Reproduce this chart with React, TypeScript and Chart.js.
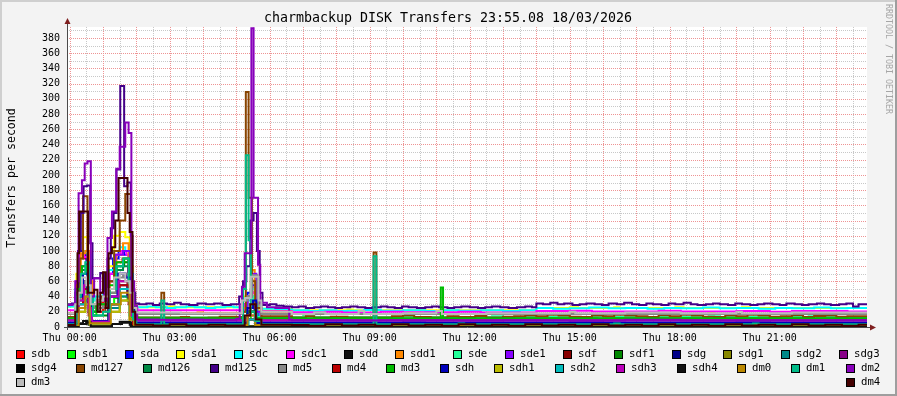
import { useEffect, useRef } from "react";
import { Chart, registerables } from "chart.js";

Chart.register(...registerables);

// ---------------- data (minutes after Thu 00:00, transfers/s) ----------------
const seriesNames = [
  "sdb", "sdb1", "sda", "sda1", "sdc", "sdc1", "sdd", "sdd1", "sde", "sde1", "sdf", "sdf1", "sdg", "sdg1", "sdg2", "sdg3",
  "sdg4", "md127", "md126", "md125", "md5", "md4", "md3", "sdh", "sdh1", "sdh2", "sdh3", "sdh4", "dm0", "dm1", "dm2",
  "dm3", "dm4",
];
const seriesColors = [
  "#FF0000", "#00FF00", "#0000FF", "#FFFF00", "#00FFFF", "#FF00FF", "#111111", "#FF8800", "#22FF99", "#8800FF", "#880000", "#008800", "#000088", "#888800", "#008888", "#880088",
  "#000000", "#884400", "#008844", "#440088", "#888888", "#BB0000", "#00BB00", "#0000BB", "#BBBB00", "#00BBBB", "#BB00BB", "#111111", "#BB8800", "#00BB88", "#8800BB",
  "#BBBBBB", "#440000",
];

const sdb = [[-5, 2.5], [12, 40], [18, 90], [28, 95], [36, 30], [42, 20], [60, 35], [70, 60], [80, 85], [95, 90], [105, 70], [112, 20], [118, 2.5], [312, 20], [318, 40], [326, 50], [334, 10], [345, 2.5]];
const sdb1 = [[-5, 0.5], [10, 25], [16, 35], [24, 60], [30, 45], [38, 15], [48, 25], [70, 30], [80, 38], [92, 40], [104, 35], [112, 12], [120, 0.5], [312, 10], [326, 20], [338, 0.5]];
const sda = [[-5, 5.5], [12, 60], [18, 100], [24, 95], [30, 80], [36, 40], [42, 25], [50, 35], [60, 45], [70, 70], [78, 90], [88, 100], [98, 95], [106, 60], [112, 20], [118, 5.5], [312, 30], [320, 45], [327, 55], [333, 20], [340, 5.5]];
const sda1 = [[-5, 27], [12, 70], [18, 110], [24, 118], [32, 100], [38, 40], [45, 35], [60, 45], [70, 80], [80, 120], [90, 125], [100, 118], [108, 80], [114, 30], [120, 26], [180, 27], [190, 26], [312, 40], [326, 60], [334, 30], [345, 24], [400, 22], [500, 23], [510, 22], [840, 25], [900, 26], [915, 25], [980, 26], [990, 25], [1090, 26], [1105, 25], [1210, 26], [1225, 25]];
const sdc = [[-5, 27], [10, 50], [16, 90], [24, 100], [32, 95], [38, 35], [46, 40], [60, 50], [70, 75], [80, 100], [90, 105], [100, 100], [108, 70], [114, 30], [120, 26], [140, 27], [155, 26], [175, 25], [190, 26], [210, 27], [225, 26], [245, 25], [262, 26], [280, 27], [295, 26], [312, 35], [326, 50], [336, 28], [345, 24], [370, 23], [400, 22], [430, 21], [450, 22], [480, 21], [500, 21.5], [530, 22.5], [560, 21.5], [600, 22], [640, 21], [670, 22], [700, 21.5], [740, 22], [780, 21], [810, 22], [840, 25], [870, 24], [900, 24.5], [935, 25.5], [970, 24.5], [1000, 25], [1040, 24], [1070, 25], [1100, 24.5], [1140, 25.5], [1170, 24.5], [1200, 25], [1240, 24], [1270, 25], [1300, 24.5], [1340, 25.5], [1370, 24.5], [1400, 25]];
const sdc1 = [[-5, 22], [12, 60], [18, 95], [26, 92], [34, 70], [40, 28], [50, 35], [62, 40], [72, 70], [82, 95], [92, 100], [102, 95], [110, 50], [116, 25], [122, 22], [314, 30], [326, 45], [336, 25], [345, 21], [400, 19.5], [460, 20], [490, 19], [560, 20], [600, 19.5], [700, 20], [740, 19], [840, 21], [900, 21.5], [940, 20.5], [1000, 20.5], [1060, 21.5], [1100, 20.5], [1200, 21], [1260, 20], [1300, 21], [1400, 20.5]];
const sdd = [[-5, 0.5], [14, 5], [24, 8], [34, 3], [70, 4], [90, 7], [108, 3], [118, 0.5]];
const sdd1 = [[-5, 18], [12, 55], [20, 97], [28, 100], [36, 60], [42, 25], [60, 30], [72, 60], [84, 95], [96, 110], [106, 80], [112, 30], [120, 18], [230, 19], [240, 18], [312, 25], [320, 40], [326, 75], [333, 40], [340, 20], [400, 17], [610, 18], [620, 17], [900, 18], [910, 17], [1150, 18], [1160, 17]];
const sde = [[-5, 12.5], [14, 50], [22, 80], [30, 70], [38, 20], [50, 25], [70, 50], [82, 80], [96, 85], [108, 50], [116, 12.5], [320, 30], [330, 40], [338, 13], [420, 14], [440, 13], [600, 14], [620, 13], [760, 14], [780, 13], [950, 14], [965, 13], [1150, 14], [1170, 13], [1330, 14], [1345, 13]];
const sde1 = [[-5, 9], [14, 50], [22, 80], [30, 75], [38, 20], [50, 25], [70, 60], [82, 95], [96, 100], [108, 40], [116, 9], [320, 40], [328, 70], [336, 20], [345, 9]];
const sdf = [[-5, 2.5], [14, 40], [24, 60], [32, 30], [40, 5], [70, 30], [88, 60], [104, 40], [114, 2.5], [320, 10], [334, 2.5]];
const sdf1 = [[-5, 11], [14, 40], [22, 75], [30, 70], [38, 15], [70, 45], [84, 80], [98, 85], [108, 40], [116, 11], [320, 20], [334, 11]];
const sdg = [[-5, 5.5], [14, 30], [24, 50], [34, 20], [40, 5], [70, 30], [88, 55], [104, 40], [114, 5.5], [320, 20], [334, 5.5]];
const sdg1 = [[-5, 0.5], [16, 20], [28, 30], [36, 5], [72, 20], [90, 35], [108, 10], [116, 0.5]];
const sdg2 = [[-5, 2.5], [16, 25], [28, 35], [36, 5], [72, 25], [90, 40], [108, 15], [116, 2.5], [320, 10], [334, 2.5]];
const sdg3 = [[-5, 9], [16, 40], [26, 60], [34, 30], [40, 8], [72, 40], [88, 70], [102, 65], [110, 20], [116, 9], [320, 20], [334, 9]];
const sdg4 = [[-5, 0.5], [16, 4], [30, 6], [38, 1], [76, 4], [94, 6], [110, 1], [118, 0.5]];
const md127 = [[-5, 13], [12, 40], [18, 90], [24, 172], [32, 80], [38, 25], [46, 30], [56, 40], [64, 20], [70, 60], [80, 100], [90, 140], [100, 175], [110, 50], [116, 14], [122, 12.5], [165, 45], [170, 12.5], [200, 13], [215, 12], [250, 12.5], [270, 13.5], [300, 13], [312, 20], [317, 309], [322, 170], [328, 60], [334, 25], [345, 14], [400, 12.5], [425, 14], [440, 12.5], [470, 13.5], [500, 12.5], [547, 98], [552, 12.5], [580, 14], [600, 15], [620, 13], [650, 12.5], [680, 14], [700, 13], [730, 14.5], [750, 12.5], [780, 13.5], [800, 14], [820, 15], [840, 14], [860, 16], [880, 15], [900, 13.5], [920, 13], [940, 15], [960, 14], [980, 16], [1000, 15], [1020, 14], [1040, 13], [1060, 15.5], [1080, 14], [1100, 16], [1120, 15], [1140, 13.5], [1160, 13], [1180, 15], [1200, 14], [1220, 16], [1240, 15], [1260, 13.5], [1280, 14], [1300, 15.5], [1320, 13], [1340, 14.5], [1360, 15], [1380, 13.5], [1400, 14]];
const md126 = [[-5, 11], [14, 45], [22, 75], [30, 70], [38, 20], [50, 30], [70, 50], [84, 75], [96, 80], [108, 40], [116, 11], [320, 20], [334, 11]];
const md125 = [[-5, 30], [4, 31], [10, 45], [15, 100], [20, 150], [25, 185], [31, 186], [37, 110], [41, 64], [55, 71], [62, 38], [68, 90], [74, 130], [79, 150], [84, 207], [91, 317], [98, 185], [104, 190], [110, 120], [113, 45], [118, 31], [125, 30], [138, 31], [150, 29], [162, 31], [175, 30], [188, 32], [200, 30], [215, 29], [230, 31], [245, 30], [260, 31], [275, 29], [290, 30], [305, 40], [312, 60], [318, 80], [325, 140], [331, 150], [337, 100], [342, 45], [347, 29], [360, 30], [372, 28], [385, 27], [400, 26], [412, 27], [425, 25], [440, 26], [452, 27], [465, 26], [478, 25], [490, 26], [505, 27], [518, 26], [532, 25], [545, 26], [560, 27], [572, 26], [585, 25], [598, 27], [610, 26], [625, 25], [640, 26], [652, 27], [665, 26], [680, 25], [692, 26], [705, 27], [720, 26], [735, 25], [748, 26], [760, 27], [775, 26], [790, 25], [805, 26], [820, 27], [832, 26], [840, 31], [852, 30], [865, 32], [878, 30], [890, 31], [905, 29], [918, 30], [930, 31], [945, 30], [958, 29], [970, 31], [985, 30], [998, 32], [1012, 30], [1025, 29], [1038, 31], [1050, 30], [1065, 29], [1078, 31], [1090, 30], [1105, 32], [1118, 30], [1130, 29], [1145, 30], [1158, 31], [1170, 30], [1185, 29], [1198, 31], [1210, 30], [1225, 29], [1238, 30], [1250, 31], [1265, 30], [1278, 29], [1290, 31], [1305, 30], [1318, 29], [1330, 30], [1345, 31], [1358, 30], [1370, 29], [1385, 30], [1398, 31], [1410, 27], [1420, 30]];
const md5 = [[-5, 17], [12, 35], [20, 55], [28, 60], [36, 30], [44, 25], [60, 30], [72, 45], [84, 65], [96, 70], [106, 50], [114, 20], [122, 17], [312, 35], [320, 40], [328, 68], [338, 30], [345, 17]];
const md4 = [[-5, 2.5], [14, 30], [24, 50], [34, 15], [40, 2.5], [72, 30], [90, 55], [106, 30], [114, 2.5], [320, 10], [334, 2.5]];
const md3 = [[-5, 11.5], [14, 50], [22, 80], [30, 75], [38, 20], [48, 30], [70, 55], [84, 85], [98, 90], [108, 45], [116, 11.5], [320, 20], [334, 11.5], [668, 52], [672, 11.5]];
const sdh = [[-5, 5.5], [14, 40], [24, 70], [32, 50], [38, 8], [70, 40], [86, 70], [100, 65], [110, 25], [116, 5.5], [320, 25], [330, 35], [336, 5.5], [600, 6], [640, 5.5], [900, 6], [960, 5.5], [1200, 6], [1260, 5.5]];
const sdh1 = [[-5, 0.5], [16, 20], [28, 30], [36, 3], [72, 20], [90, 35], [108, 10], [116, 0.5]];
const sdh2 = [[-5, 2.5], [16, 30], [28, 40], [36, 5], [72, 30], [90, 50], [108, 15], [116, 2.5], [322, 10], [334, 2.5]];
const sdh3 = [[-5, 9], [16, 35], [26, 55], [34, 25], [40, 7], [72, 40], [88, 60], [102, 60], [110, 15], [116, 9], [320, 15], [334, 9]];
const sdh4 = [[-5, 0.5], [16, 4], [30, 6], [38, 1], [76, 4], [94, 6], [110, 1], [118, 0.5]];
const dm0 = [[-5, 2.5], [16, 25], [28, 40], [36, 5], [74, 30], [92, 45], [108, 10], [116, 2.5], [320, 15], [334, 2.5]];
const dm1 = [[-5, 3.5], [12, 40], [20, 70], [28, 85], [36, 40], [42, 15], [60, 20], [72, 50], [84, 80], [96, 90], [106, 60], [114, 10], [120, 3.5], [165, 35], [170, 3.5], [312, 50], [317, 226], [322, 114], [326, 20], [334, 8], [345, 3.5], [547, 93], [552, 3.5], [700, 4.5], [710, 3.5], [980, 4.5], [990, 3.5], [1230, 4.5], [1240, 3.5]];
const dm2 = [[-5, 29], [5, 30], [10, 60], [16, 176], [22, 193], [27, 215], [32, 218], [38, 40], [44, 64], [55, 45], [62, 35], [68, 117], [76, 152], [84, 208], [90, 237], [100, 269], [106, 255], [111, 60], [116, 28], [121, 10], [160, 9.5], [200, 10], [240, 9.5], [300, 11], [306, 30], [310, 53], [315, 97], [327, 393], [331, 170], [339, 82], [343, 32], [355, 26], [370, 25], [395, 10], [400, 9], [500, 8.5], [560, 9], [700, 8.5], [780, 9], [900, 8.5], [1000, 9.5], [1100, 8.5], [1200, 9], [1300, 8.5], [1380, 9]];
const dm3 = [[-5, 18], [10, 30], [16, 45], [22, 65], [30, 55], [38, 30], [48, 35], [60, 40], [70, 50], [80, 65], [90, 70], [100, 60], [108, 45], [114, 25], [120, 19], [200, 18], [310, 35], [316, 38], [326, 66], [340, 35], [345, 20], [400, 17], [440, 19], [460, 17], [520, 21], [530, 17], [600, 18], [660, 21], [670, 17], [750, 18], [840, 18], [900, 20], [910, 18], [1000, 19], [1100, 18], [1200, 20], [1210, 18], [1300, 19]];
const dm4 = [[-5, 2.5], [10, 20], [14, 97], [17, 152], [33, 45], [44, 49], [50, 20], [55, 45], [60, 72], [65, 25], [70, 97], [76, 105], [82, 140], [88, 196], [104, 150], [108, 125], [113, 20], [118, 3], [150, 2], [180, 3.5], [210, 2], [250, 3], [280, 2], [315, 15], [325, 30], [335, 10], [345, 3], [400, 2.5], [430, 1.5], [460, 3.5], [490, 2], [520, 3], [550, 1.5], [580, 3.5], [610, 2], [640, 3], [670, 1.5], [700, 3.5], [730, 2], [760, 3], [790, 1.5], [820, 3.5], [850, 2], [880, 3], [910, 1.5], [940, 3.5], [970, 2], [1000, 3], [1030, 1.5], [1060, 3.5], [1090, 2], [1120, 3], [1150, 1.5], [1180, 3.5], [1210, 2], [1240, 3], [1270, 1.5], [1300, 3.5], [1330, 2], [1360, 3], [1390, 1.5], [1420, 3]];

const seriesData = [sdb, sdb1, sda, sda1, sdc, sdc1, sdd, sdd1, sde, sde1, sdf, sdf1, sdg, sdg1, sdg2, sdg3, sdg4, md127, md126, md125, md5, md4, md3, sdh, sdh1, sdh2, sdh3, sdh4, dm0, dm1, dm2, dm3, dm4];

const yGridValues = [0, 10, 20, 30, 40, 50, 60, 70, 80, 90, 100, 110, 120, 130, 140, 150, 160, 170, 180, 190, 200, 210, 220, 230, 240, 250, 260, 270, 280, 290, 300, 310, 320, 330, 340, 350, 360, 370, 380, 390];
const xGridMinutes = [0, 30, 60, 90, 120, 150, 180, 210, 240, 270, 300, 330, 360, 390, 420, 450, 480, 510, 540, 570, 600, 630, 660, 690, 720, 750, 780, 810, 840, 870, 900, 930, 960, 990, 1020, 1050, 1080, 1110, 1140, 1170, 1200, 1230, 1260, 1290, 1320, 1350, 1380, 1410];
const xLabelMinutes = [0, 180, 360, 540, 720, 900, 1080, 1260];
const xLabelTexts = ["Thu 00:00", "Thu 03:00", "Thu 06:00", "Thu 09:00", "Thu 12:00", "Thu 15:00", "Thu 18:00", "Thu 21:00"];
const timeStart = -4.87;
const timeEnd = 1435.13;
const yMax = 394.5;

const titleText = "charmbackup DISK Transfers 23:55.08 18/03/2026";
const yAxisTitle = "Transfers per second";
const watermark = "RRDTOOL / TOBI OETIKER";
const legendRows = [
  [0, 1, 2, 3, 4, 5, 6, 7, 8, 9, 10, 11, 12, 13, 14, 15],
  [16, 17, 18, 19, 20, 21, 22, 23, 24, 25, 26, 27, 28, 29, 30],
  [31, 32],
];

// ---------------- styling ----------------
const W = 897;
const H = 396;
const MONO = "'DejaVu Sans Mono', monospace";
const BACK = "#F3F3F3";
const MINOR = "#C8C8C8";
const MAJOR = "#EE9494";

const rrdPlugin = {
  id: "rrdDecor",
  beforeDraw(chart: any) {
    const { ctx, chartArea } = chart;
    ctx.save();
    ctx.fillStyle = BACK;
    ctx.fillRect(0, 0, W, H);
    ctx.fillStyle = "#FFFFFF";
    ctx.fillRect(chartArea.left, chartArea.top, chartArea.right - chartArea.left, chartArea.bottom - chartArea.top);
    ctx.restore();
  },
  beforeDatasetsDraw(chart: any) {
    const { ctx, chartArea, scales } = chart;
    const { left, right, top, bottom } = chartArea;
    ctx.save();
    ctx.lineWidth = 1;
    ctx.setLineDash([1, 1]);
    const pass = (major: boolean) => {
      ctx.strokeStyle = major ? MAJOR : MINOR;
      for (const v of yGridValues) {
        if (v === 0) continue;
        if ((v % 20 === 0) !== major) continue;
        const py = Math.round(scales.y.getPixelForValue(v)) + 0.5;
        ctx.beginPath();
        ctx.moveTo(left, py);
        ctx.lineTo(right, py);
        ctx.stroke();
      }
      for (const m of xGridMinutes) {
        if ((m % 60 === 0) !== major) continue;
        const px = Math.round(scales.x.getPixelForValue(m)) + 0.5;
        ctx.beginPath();
        ctx.moveTo(px, top);
        ctx.lineTo(px, bottom);
        ctx.stroke();
      }
    };
    pass(false);
    pass(true);
    ctx.restore();
  },
  afterDraw(chart: any) {
    const { ctx, chartArea } = chart;
    const { left, right, top, bottom } = chartArea;
    ctx.save();
    // frame shading
    ctx.fillStyle = "#CFCFCF";
    ctx.fillRect(0, 0, W, 2);
    ctx.fillRect(0, 0, 2, H);
    ctx.fillStyle = "#9E9E9E";
    ctx.fillRect(0, H - 2, W, 2);
    ctx.fillRect(W - 2, 0, 2, H);

    // axes
    ctx.strokeStyle = "#4A4A4A";
    ctx.lineWidth = 1;
    ctx.beginPath();
    ctx.moveTo(left - 3, bottom + 0.5);
    ctx.lineTo(right + 4, bottom + 0.5);
    ctx.stroke();
    ctx.beginPath();
    ctx.moveTo(left + 0.5, bottom + 3);
    ctx.lineTo(left + 0.5, top - 4);
    ctx.stroke();
    ctx.fillStyle = "#7F1F1F";
    ctx.beginPath();
    ctx.moveTo(left + 0.5, top - 9);
    ctx.lineTo(left - 2.5, top - 3);
    ctx.lineTo(left + 3.5, top - 3);
    ctx.closePath();
    ctx.fill();
    ctx.beginPath();
    ctx.moveTo(right + 9, bottom + 0.5);
    ctx.lineTo(right + 3, bottom - 2.5);
    ctx.lineTo(right + 3, bottom + 3.5);
    ctx.closePath();
    ctx.fill();

    // title
    ctx.fillStyle = "#000000";
    ctx.font = `13.3px ${MONO}`;
    ctx.textAlign = "center";
    ctx.textBaseline = "middle";
    ctx.fillText(titleText, 448, 19);

    // y axis title
    ctx.save();
    ctx.translate(12, 178);
    ctx.rotate(-Math.PI / 2);
    ctx.font = `11.6px ${MONO}`;
    ctx.fillText(yAxisTitle, 0, 0);
    ctx.restore();

    // watermark
    ctx.save();
    ctx.translate(888, 59);
    ctx.rotate(Math.PI / 2);
    ctx.font = `8.3px ${MONO}`;
    ctx.fillStyle = "#A6A6A6";
    ctx.fillText(watermark, 0, 0);
    ctx.restore();

    // legend (justified rows)
    ctx.font = `10.7px ${MONO}`;
    ctx.textAlign = "left";
    ctx.textBaseline = "middle";
    const L = 15.5;
    const R = 880;
    const rowY = [354, 368, 382];
    legendRows.forEach((row, r) => {
      const widths = row.map((i) => 15 + ctx.measureText(seriesNames[i]).width);
      const total = widths.reduce((a, b) => a + b, 0);
      const gap = row.length > 1 ? (R - L - total) / (row.length - 1) : 0;
      let x = L;
      row.forEach((i, k) => {
        const bx = Math.round(x);
        const by = Math.round(rowY[r] - 4.5);
        ctx.fillStyle = seriesColors[i];
        ctx.fillRect(bx, by, 9, 9);
        ctx.strokeStyle = "#000000";
        ctx.lineWidth = 1;
        ctx.strokeRect(bx + 0.5, by + 0.5, 8, 8);
        ctx.fillStyle = "#000000";
        ctx.fillText(seriesNames[i], bx + 15, rowY[r]);
        x += widths[k] + gap;
      });
    });
    ctx.restore();
  },
};

export default function App() {
  const ref = useRef<HTMLCanvasElement>(null);
  useEffect(() => {
    document.body.style.margin = "0";
    const canvas = ref.current;
    if (!canvas) return;
    const datasets = seriesData.map((pts, i) => {
      const data = pts.map(([x, y]) => ({ x, y }));
      data.push({ x: timeEnd + 1, y: pts[pts.length - 1][1] });
      return {
        label: seriesNames[i],
        data,
        borderColor: seriesColors[i],
        backgroundColor: seriesColors[i],
        borderWidth: 2,
        pointRadius: 0,
        pointHoverRadius: 0,
        stepped: true,
        fill: false,
        tension: 0,
        order: seriesNames.length - i,
        clip: 0,
      };
    });
    const chart = new Chart(canvas, {
      type: "line",
      data: { datasets },
      options: {
        animation: false,
        responsive: false,
        devicePixelRatio: 1,
        events: [],
        layout: { padding: { left: 0, top: 27, right: 30, bottom: 0 } },
        plugins: { legend: { display: false }, title: { display: false }, tooltip: { enabled: false } },
        scales: {
          x: {
            type: "linear",
            min: timeStart,
            max: timeEnd,
            afterBuildTicks: (scale: any) => {
              scale.ticks = xGridMinutes.map((v) => ({ value: v }));
            },
            afterFit: (scale: any) => {
              scale.height = H - 327;
            },
            grid: { display: false, drawTicks: false },
            border: { display: false },
            ticks: {
              autoSkip: false,
              maxRotation: 0,
              minRotation: 0,
              padding: 5,
              color: "#000000",
              font: { family: MONO, size: 10 },
              callback: (value: any) => {
                const k = xLabelMinutes.indexOf(Number(value));
                return k >= 0 ? xLabelTexts[k] : "";
              },
            },
          },
          y: {
            type: "linear",
            min: 0,
            max: yMax,
            afterBuildTicks: (scale: any) => {
              scale.ticks = yGridValues.map((v) => ({ value: v }));
            },
            afterFit: (scale: any) => {
              scale.width = 67;
            },
            grid: { display: false, drawTicks: false },
            border: { display: false },
            ticks: {
              autoSkip: false,
              padding: 7,
              color: "#000000",
              font: { family: MONO, size: 10 },
              callback: (value: any) => (Number(value) % 20 === 0 ? String(value) : ""),
            },
          },
        },
      },
      plugins: [rrdPlugin],
    } as any);
    return () => chart.destroy();
  }, []);
  return <canvas ref={ref} width={W} height={H} style={{ display: "block", width: W, height: H }} />;
}
